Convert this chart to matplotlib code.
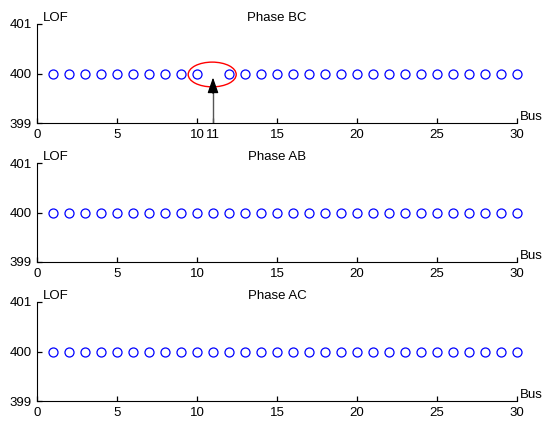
import numpy as np
import matplotlib
matplotlib.use("Agg")
import matplotlib.pyplot as plt
from matplotlib.patches import Ellipse

# ================= DATA =================
buses = [1, 2, 3, 4, 5, 6, 7, 8, 9, 10, 11, 12, 13, 14, 15,
         16, 17, 18, 19, 20, 21, 22, 23, 24, 25, 26, 27, 28, 29, 30]

nan = np.nan
# LOF per bus; bus 11 has no value in phase BC (the faulted bus)
lof_bc = [400, 400, 400, 400, 400, 400, 400, 400, 400, 400, nan, 400, 400, 400, 400,
          400, 400, 400, 400, 400, 400, 400, 400, 400, 400, 400, 400, 400, 400, 400]
lof_ab = [400, 400, 400, 400, 400, 400, 400, 400, 400, 400, 400, 400, 400, 400, 400,
          400, 400, 400, 400, 400, 400, 400, 400, 400, 400, 400, 400, 400, 400, 400]
lof_ac = [400, 400, 400, 400, 400, 400, 400, 400, 400, 400, 400, 400, 400, 400, 400,
          400, 400, 400, 400, 400, 400, 400, 400, 400, 400, 400, 400, 400, 400, 400]

titles = ["Phase BC", "Phase AB", "Phase AC"]
series = [lof_bc, lof_ab, lof_ac]

fault_bus = 11
y_ticks = [399, 400, 401]
x_ticks = [0, 5, 10, 15, 20, 25, 30]

# ================= PLOT =================
plt.rcParams['font.family'] = ['Liberation Sans', 'DejaVu Sans']
plt.rcParams['font.size'] = 9.5

fig = plt.figure(figsize=(5.45, 4.24), dpi=100)

left, width = 37 / 545, 480 / 545
tops = [24, 163, 302]
height = 99 / 424

for i, (title, vals) in enumerate(zip(titles, series)):
    bottom = 1 - (tops[i] + 99) / 424
    ax = fig.add_axes([left, bottom, width, height])

    ax.plot(buses, vals, linestyle='none', marker='o', markersize=6.5,
            markerfacecolor='none', markeredgecolor='blue', markeredgewidth=0.9,
            clip_on=False)

    ax.set_xlim(0, 30)
    ax.set_ylim(399, 401)
    ax.set_yticks(y_ticks)
    if i == 0:
        ax.set_xticks(x_ticks + [fault_bus])
    else:
        ax.set_xticks(x_ticks)

    ax.spines['top'].set_visible(False)
    ax.spines['right'].set_visible(False)
    ax.spines['left'].set_linewidth(0.8)
    ax.spines['bottom'].set_linewidth(0.8)
    ax.tick_params(direction='in', length=3.5, width=0.9, pad=4, color='black')

    ax.set_title(title, fontsize=9.5, pad=1)
    ax.text(0.012, 1.0, "LOF", transform=ax.transAxes, ha='left', va='bottom')
    ax.text(1.006, 0.0, "Bus", transform=ax.transAxes, ha='left', va='bottom')

    if i == 0:
        # mark the missing point at the faulted bus
        ax.add_patch(Ellipse((10.95, 399.98), 3.0, 0.5, fill=False,
                             edgecolor='red', linewidth=1.0, clip_on=False))
        ax.plot([fault_bus, fault_bus], [399, 399.7], color='#555555', lw=1.0)
        ax.annotate('', xy=(fault_bus, 399.92), xytext=(fault_bus, 399.6),
                    arrowprops=dict(arrowstyle='-|>,head_length=1.0,head_width=0.35',
                                    color='black', lw=0.9, shrinkA=0, shrinkB=0))

fig.savefig("out.png", dpi=100)
